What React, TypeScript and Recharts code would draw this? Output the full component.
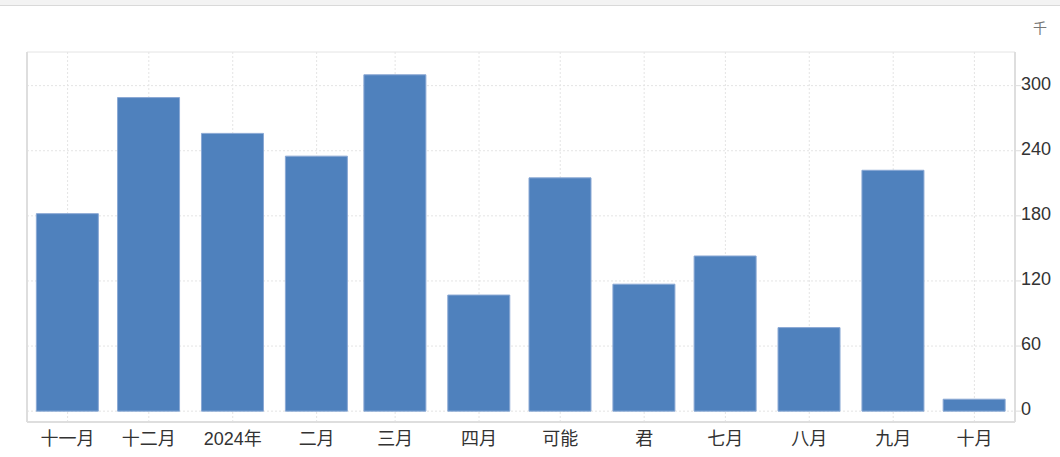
import React from "react";
import { BarChart, Bar, XAxis, YAxis, CartesianGrid, ReferenceLine } from "recharts";

// month starts, one bar each
const MONTH_STARTS = [
  "2023-11-01", "2023-12-01", "2024-01-01", "2024-02-01", "2024-03-01", "2024-04-01",
  "2024-05-01", "2024-06-01", "2024-07-01", "2024-08-01", "2024-09-01", "2024-10-01",
];
const MONTH_LABELS = ["十一月", "十二月", "2024年", "二月", "三月", "四月", "可能", "君", "七月", "八月", "九月", "十月"];
const VALUES = [182, 289, 256, 235, 310, 107, 215, 117, 143, 77, 222, 11];
const Y_TICKS = [0, 60, 120, 180, 240, 300];

const DAY_MS = 24 * 60 * 60 * 1000;
const ORIGIN = Date.parse(MONTH_STARTS[0]);
const toDay = (iso: string) => Math.round((Date.parse(iso) - ORIGIN) / DAY_MS);

const X_TICKS = MONTH_STARTS.map(toDay);
const X_DOMAIN: [number, number] = [-15, 350];
const Y_DOMAIN: [number, number] = [-10, 331];

const data = MONTH_STARTS.map((d, i) => ({ day: toDay(d), value: VALUES[i] }));
const labelFor = (day: number) => MONTH_LABELS[X_TICKS.indexOf(day)] ?? "";

const FONT = "'Liberation Sans', Arial, 'Noto Sans CJK SC', sans-serif";
const LINE = "#dedede";
const GRID = "#e4e4e4";

function XTick({ x, y, payload }: any) {
  return (
    <text x={x} y={y + 21} textAnchor="middle" fill="#333" fontSize={18} fontFamily={FONT}>
      {labelFor(payload.value)}
    </text>
  );
}

function YTick({ x, y, payload }: any) {
  return (
    <text x={x} y={y + 4} textAnchor="start" fill="#333" fontSize={18} fontFamily={FONT}>
      {payload.value}
    </text>
  );
}

export default function App() {
  return (
    <div style={{ position: "relative", width: 1060, height: 457, background: "#fff", fontFamily: FONT }}>
      <style>{`body{margin:0}`}</style>
      <div
        style={{
          position: "absolute", left: 0, top: 0, width: 1060, height: 5,
          background: "#f3f3f3", borderBottom: "1px solid #d9d9d9",
        }}
      />
      <div style={{ position: "absolute", left: 1033, top: 17, fontSize: 14, color: "#777" }}>千</div>
      <BarChart
        width={1060}
        height={457}
        data={data}
        margin={{ top: 52, right: 0, bottom: 0, left: 27 }}
        style={{ position: "absolute", left: 0, top: 0 }}
      >
        <CartesianGrid stroke={GRID} strokeDasharray="2 2" />
        <XAxis
          dataKey="day"
          type="number"
          domain={X_DOMAIN}
          ticks={X_TICKS}
          allowDataOverflow
          height={35}
          axisLine={{ stroke: LINE, strokeWidth: 2 }}
          tickLine={false}
          tickSize={0}
          tick={<XTick />}
          interval={0}
        />
        <YAxis
          orientation="right"
          domain={Y_DOMAIN}
          ticks={Y_TICKS}
          allowDataOverflow
          width={45}
          axisLine={{ stroke: LINE, strokeWidth: 2 }}
          tickLine={{ stroke: LINE }}
          tickSize={6}
          tickMargin={0}
          tick={<YTick />}
        />
        <ReferenceLine x={X_DOMAIN[0]} stroke={LINE} strokeWidth={2} />
        <ReferenceLine y={Y_DOMAIN[1]} stroke={GRID} strokeDasharray="2 2" />
        <Bar
          dataKey="value"
          fill="#4f81bd"
          stroke="#8aa8d4"
          strokeWidth={1}
          barSize={62}
          isAnimationActive={false}
        />
      </BarChart>
    </div>
  );
}
